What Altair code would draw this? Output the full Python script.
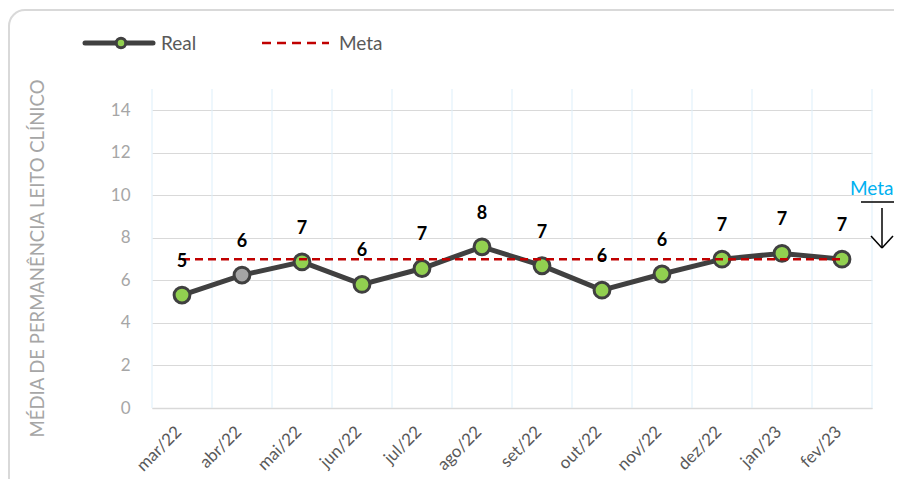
import altair as alt
import pandas as pd

meses = ["mar/22", "abr/22", "mai/22", "jun/22", "jul/22", "ago/22",
         "set/22", "out/22", "nov/22", "dez/22", "jan/23", "fev/23"]
real = [5.31, 6.25, 6.87, 5.81, 6.56, 7.58, 6.69, 5.54, 6.30, 7.00, 7.27, 7.00]
rotulos = ["5", "6", "7", "6", "7", "8", "7", "6", "6", "7", "7", "7"]
meta = [7, 7, 7, 7, 7, 7, 7, 7, 7, 7, 7, 7]
y_ticks = [0, 2, 4, 6, 8, 10, 12, 14]

FONT = "Lato"
W, H = 720, 319

df = pd.DataFrame({"mes": meses, "real": real, "rotulo": rotulos, "meta": meta})

xenc = alt.X("mes:N", sort=meses, title=None,
             scale=alt.Scale(type="band", paddingInner=0, paddingOuter=0),
             axis=alt.Axis(labelAngle=-45, labelAlign="right", labelBaseline="middle",
                           labelPadding=21, labelOffset=-3, labelFontSize=17,
                           labelColor="#595959",
                           labelFont=FONT, ticks=False, grid=False,
                           domainColor="#D9D9D9", domainWidth=1.5))
yscale = alt.Scale(domain=[0, 15], nice=False)
yaxis = alt.Axis(values=y_ticks, title="MÉDIA DE PERMANÊNCIA LEITO CLÍNICO",
                 titleFont=FONT, titleFontSize=18.5, titleFontWeight="normal",
                 titleColor="#A6A6A6", titleX=-115, titleY=169,
                 titleAlign="center", titleBaseline="middle", titleAngle=-90,
                 labelFont=FONT, labelFontSize=17, labelColor="#A6A6A6",
                 labelPadding=22, ticks=False, domain=False,
                 gridColor="#D9D9D9", gridWidth=1.2)

base = alt.Chart(df)

one = alt.Data(values=[{"k": 1}])

# frame
frame = alt.Chart(one).mark_rect(fill=None, stroke="#D9D9D9", strokeWidth=2,
                                 cornerRadius=16).encode(
    x=alt.value(-143), x2=alt.value(770), y=alt.value(-79), y2=alt.value(420))

vgrid = base.mark_rule(color="#DDEFFA", strokeWidth=1).encode(
    x=alt.X("mes:N", sort=meses, bandPosition=0),
    y=alt.value(0), y2=alt.value(H))
vgrid_end = alt.Chart(one).mark_rule(color="#DDEFFA", strokeWidth=1).encode(
    x=alt.value(W), y=alt.value(0), y2=alt.value(H))

line = base.mark_line(color="#404040", strokeWidth=5).encode(
    x=xenc, y=alt.Y("real:Q", scale=yscale, axis=yaxis))

pts = base.mark_point(filled=True, size=250, stroke="#404040", strokeWidth=3,
                      opacity=1, shape="circle").encode(
    x=alt.X("mes:N", sort=meses),
    y=alt.Y("real:Q"),
    fill=alt.condition(alt.datum.mes == "abr/22", alt.value("#A5A5A5"),
                       alt.value("#92D050")))

meta_line = base.mark_line(color="#C00000", strokeWidth=2.5,
                           strokeDash=[8, 5]).encode(
    x=alt.X("mes:N", sort=meses), y=alt.Y("meta:Q"))

labels = base.mark_text(font=FONT, fontSize=18, fontWeight="bold", color="#000000",
                        dy=-33, baseline="middle", align="center").encode(
    x=alt.X("mes:N", sort=meses), y=alt.Y("real:Q"), text="rotulo:N")

# legend
leg_real_line = alt.Chart(one).mark_rule(color="#404040", strokeWidth=5,
                                         strokeCap="round").encode(
    x=alt.value(-67), x2=alt.value(1), y=alt.value(-46))
leg_real_pt = alt.Chart(one).mark_point(filled=True, size=90, fill="#92D050",
                                        stroke="#404040", strokeWidth=3,
                                        opacity=1).encode(
    x=alt.value(-31), y=alt.value(-46))
leg_real_txt = alt.Chart(one).mark_text(text="Real", font=FONT, fontSize=19,
                                        color="#595959", align="left",
                                        baseline="middle").encode(
    x=alt.value(9), y=alt.value(-45))
leg_meta_line = alt.Chart(one).mark_rule(color="#C00000", strokeWidth=2.5,
                                         strokeDash=[9, 6]).encode(
    x=alt.value(110), x2=alt.value(177), y=alt.value(-46))
leg_meta_txt = alt.Chart(one).mark_text(text="Meta", font=FONT, fontSize=19,
                                        color="#595959", align="left",
                                        baseline="middle").encode(
    x=alt.value(187), y=alt.value(-45))

# annotation on the right
ann_txt = alt.Chart(one).mark_text(text="Meta", font=FONT, fontSize=19,
                                   color="#00B0F0", align="left",
                                   baseline="alphabetic").encode(
    x=alt.value(698), y=alt.value(106))
ann_bar = alt.Chart(one).mark_rule(color="#000000", strokeWidth=1.5).encode(
    x=alt.value(709), x2=alt.value(760), y=alt.value(113))
ann_shaft = alt.Chart(one).mark_rule(color="#000000", strokeWidth=1.5).encode(
    x=alt.value(730), y=alt.value(119), y2=alt.value(159))
ann_head_l = alt.Chart(one).mark_rule(color="#000000", strokeWidth=1.5).encode(
    x=alt.value(719), x2=alt.value(730), y=alt.value(147), y2=alt.value(159))
ann_head_r = alt.Chart(one).mark_rule(color="#000000", strokeWidth=1.5).encode(
    x=alt.value(741), x2=alt.value(730), y=alt.value(147), y2=alt.value(159))

chart = alt.layer(
    frame, vgrid, vgrid_end, line, pts, meta_line, labels,
    leg_real_line, leg_real_pt, leg_real_txt, leg_meta_line, leg_meta_txt,
    ann_txt, ann_bar, ann_shaft, ann_head_l, ann_head_r,
).properties(
    width=W, height=H,
    padding={"left": 144, "top": 81, "right": 22, "bottom": 71},
    autosize=alt.AutoSizeParams(type="none"),
    background="#FFFFFF",
).configure_view(stroke=None)

chart.save("out.html", embed_options={"renderer": "svg", "actions": False})
